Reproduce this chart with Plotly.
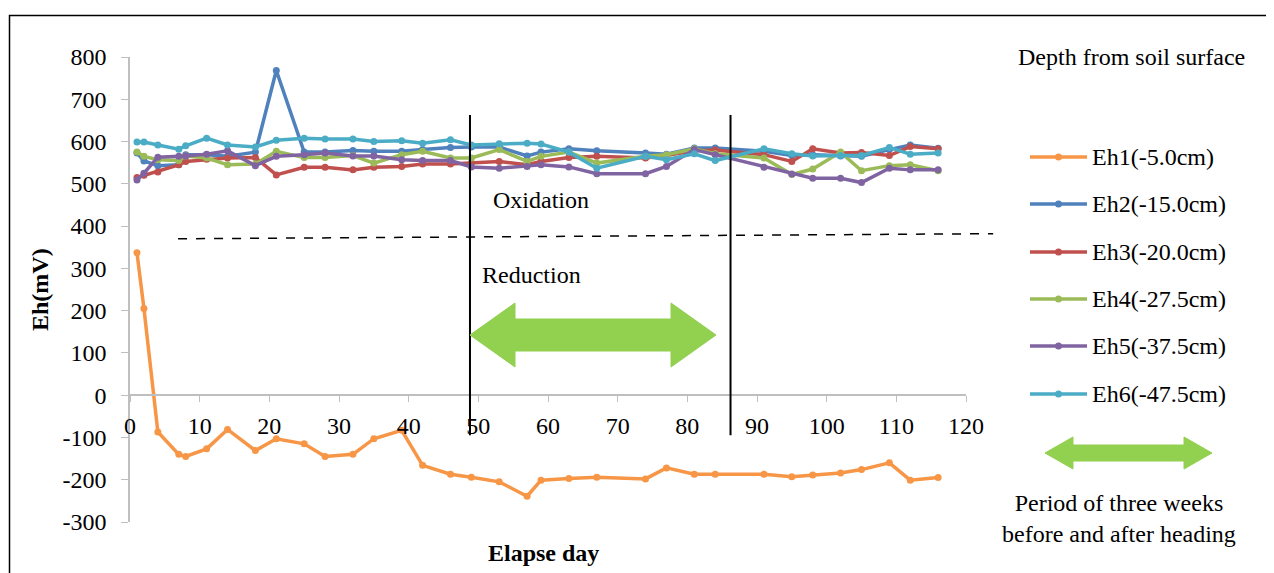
import plotly.graph_objects as go

days = [1, 2, 4, 7, 8, 11, 14, 18, 21, 25, 28, 32, 35, 39, 42, 46, 49, 53, 57, 59,
        63, 67, 74, 77, 81, 84, 91, 95, 98, 102, 105, 109, 112, 116]

eh1 = [337, 205, -87, -140, -145, -127, -81, -131, -103, -115, -145, -140, -103, -83, -166,
       -187, -194, -205, -239, -201, -197, -194, -198, -172, -187, -187, -187, -193, -189,
       -184, -176, -160, -201, -195]
eh2 = [573, 554, 543, 545, 569, 569, 565, 575, 768, 575, 575, 579, 577, 577, 581, 586, 587,
       587, 566, 575, 583, 578, 573, 570, 585, 585, 577, 567, 569, 566, 565, 581, 592, 584]
eh3 = [515, 520, 528, 545, 553, 558, 561, 562, 521, 539, 539, 533, 539, 541, 547, 547, 549,
       553, 545, 553, 562, 565, 561, 567, 578, 580, 569, 553, 583, 573, 574, 567, 588, 583]
eh4 = [575, 565, 557, 555, 566, 561, 545, 547, 577, 562, 562, 567, 549, 569, 577, 561, 561,
       581, 553, 565, 575, 549, 565, 569, 583, 571, 561, 522, 535, 575, 531, 543, 545, 531]
eh5 = [509, 525, 563, 565, 566, 570, 578, 543, 565, 569, 573, 566, 566, 557, 555, 555, 540,
       537, 541, 545, 540, 524, 524, 541, 581, 569, 539, 523, 513, 513, 503, 537, 533, 533]
eh6 = [599, 599, 592, 582, 590, 608, 592, 587, 603, 608, 606, 606, 600, 602, 596, 604, 592,
       595, 596, 594, 575, 537, 565, 557, 571, 555, 583, 571, 566, 567, 567, 586, 570, 573]

series_names = ["Eh1(-5.0cm)", "Eh2(-15.0cm)", "Eh3(-20.0cm)",
                "Eh4(-27.5cm)", "Eh5(-37.5cm)", "Eh6(-47.5cm)"]
series_values = [eh1, eh2, eh3, eh4, eh5, eh6]
colors = ["#F79646", "#4F81BD", "#C0504D", "#9BBB59", "#8064A2", "#4BACC6"]

x_ticks = [0, 10, 20, 30, 40, 50, 60, 70, 80, 90, 100, 110, 120]
y_ticks = [-300, -200, -100, 0, 100, 200, 300, 400, 500, 600, 700, 800]
y_tick_labels = [str(v) for v in y_ticks]
x_range = [0, 120]
y_range = [-300, 800]

# heading period marks (days) and redox boundary (mV)
heading_lines = [48.8, 86.2]
heading_line_span = [-95, 663]
boundary_x = [6.9, 123.9]
boundary_y = [370, 382]

# page offset of the figure (browser body margin)
OX, OY = 8, 8
W, H = 1266, 565
ML, MR, MT, MB = 122, 308, 49, 51
PW, PH = W - ML - MR, H - MT - MB

FONT = "Liberation Serif"
FS = 24


def px(xp):
    return (xp - OX - ML) / PW


def py(yp):
    return (H - MB - (yp - OY)) / PH


def dx(d):
    return (d - x_range[0]) / (x_range[1] - x_range[0])


def dy(v):
    return (v - y_range[0]) / (y_range[1] - y_range[0])


def arrow_path(x0, x1, yc, head_len, head_half, shaft_half):
    pts = [(x0, yc), (x0 + head_len, yc - head_half), (x0 + head_len, yc - shaft_half),
           (x1 - head_len, yc - shaft_half), (x1 - head_len, yc - head_half), (x1, yc),
           (x1 - head_len, yc + head_half), (x1 - head_len, yc + shaft_half),
           (x0 + head_len, yc + shaft_half), (x0 + head_len, yc + head_half)]
    return "M " + " L ".join(f"{px(a):.5f},{py(b):.5f}" for a, b in pts) + " Z"


fig = go.Figure()
for name, vals, col in zip(series_names, series_values, colors):
    fig.add_trace(go.Scatter(
        x=days, y=vals, name=name, mode="lines+markers",
        line=dict(color=col, width=3.5), marker=dict(color=col, size=7),
        showlegend=False,
    ))

shapes = []
# outer frame
shapes.append(dict(type="rect", xref="paper", yref="paper",
                   x0=px(9.5), x1=px(1272.5), y0=py(574), y1=py(15.5),
                   line=dict(color="black", width=1.5), fillcolor="rgba(0,0,0,0)", layer="below"))
# heading vertical lines
for d in heading_lines:
    shapes.append(dict(type="line", xref="paper", yref="paper",
                       x0=dx(d), x1=dx(d), y0=dy(heading_line_span[0]), y1=dy(heading_line_span[1]),
                       line=dict(color="black", width=2)))
# redox boundary dashed line
shapes.append(dict(type="line", xref="paper", yref="paper",
                   x0=dx(boundary_x[0]), x1=dx(boundary_x[1]),
                   y0=dy(boundary_y[0]), y1=dy(boundary_y[1]),
                   line=dict(color="black", width=1.5, dash="dash")))
# green double arrows
shapes.append(dict(type="path", xref="paper", yref="paper",
                   path=arrow_path(470, 716, 335, 45, 32, 16),
                   fillcolor="#92D050", line=dict(color="#92D050", width=1)))
shapes.append(dict(type="path", xref="paper", yref="paper",
                   path=arrow_path(1045, 1212, 453, 28, 16, 8),
                   fillcolor="#92D050", line=dict(color="#92D050", width=1)))

annotations = [
    dict(text="Oxidation", x=59.0, y=461, xref="x", yref="y", showarrow=False,
         xanchor="center", yanchor="middle", font=dict(family=FONT, size=FS, color="black")),
    dict(text="Reduction", x=57.7, y=284, xref="x", yref="y", showarrow=False,
         xanchor="center", yanchor="middle", font=dict(family=FONT, size=FS, color="black")),
    dict(text="<b>Eh(mV)</b>", x=px(40), y=py(290), xref="paper", yref="paper",
         xanchor="center", yanchor="middle",
         showarrow=False, textangle=-90, font=dict(family=FONT, size=FS, color="black")),
    dict(text="<b>Elapse day</b>", x=px(543), y=py(553), xref="paper", yref="paper",
         xanchor="center", yanchor="middle",
         showarrow=False, font=dict(family=FONT, size=FS, color="black")),
    dict(text="Depth from soil surface", x=px(1131), y=py(57), xref="paper", yref="paper",
         xanchor="center", yanchor="middle",
         showarrow=False, font=dict(family=FONT, size=FS, color="black")),
    dict(text="Period of three weeks<br>before and after heading", x=px(1119), y=py(518),
         xref="paper", yref="paper", showarrow=False, align="center",
         xanchor="center", yanchor="middle",
         font=dict(family=FONT, size=FS, color="black")),
]

# legend drawn as line + dot + label
legend_y = [157, 204, 252, 299, 346, 394]
for name, col, ly in zip(series_names, colors, legend_y):
    shapes.append(dict(type="line", xref="paper", yref="paper",
                       x0=px(1030), x1=px(1087), y0=py(ly), y1=py(ly),
                       line=dict(color=col, width=3.5)))
    shapes.append(dict(type="circle", xref="paper", yref="paper",
                       x0=px(1055), x1=px(1062), y0=py(ly + 3.5), y1=py(ly - 3.5),
                       fillcolor=col, line=dict(color=col, width=0)))
    annotations.append(dict(text=name, x=px(1090), y=py(ly), xref="paper", yref="paper",
                            xanchor="left", yanchor="middle", showarrow=False,
                            font=dict(family=FONT, size=FS, color="black")))

fig.update_layout(
    width=W, height=H,
    margin=dict(l=ML, r=MR, t=MT, b=MB),
    paper_bgcolor="white", plot_bgcolor="white",
    font=dict(family=FONT, size=FS, color="black"),
    showlegend=False,
    shapes=shapes,
    annotations=annotations,
    xaxis=dict(range=x_range, tickvals=x_ticks, showgrid=False, zeroline=False,
               showline=True, linecolor="#BFBFBF", linewidth=1.5,
               ticks="outside", ticklen=6, tickcolor="#BFBFBF",
               anchor="free", position=dy(0), ticklabelstandoff=3,
               tickfont=dict(family=FONT, size=FS, color="black")),
    yaxis=dict(range=y_range, tickvals=y_ticks, ticktext=y_tick_labels,
               showgrid=False, zeroline=False,
               showline=True, linecolor="#BFBFBF", linewidth=1.5,
               ticks="outside", ticklen=7, tickcolor="#BFBFBF", ticklabelstandoff=10,
               tickfont=dict(family=FONT, size=FS, color="black")),
)

fig.write_html("out.html")
